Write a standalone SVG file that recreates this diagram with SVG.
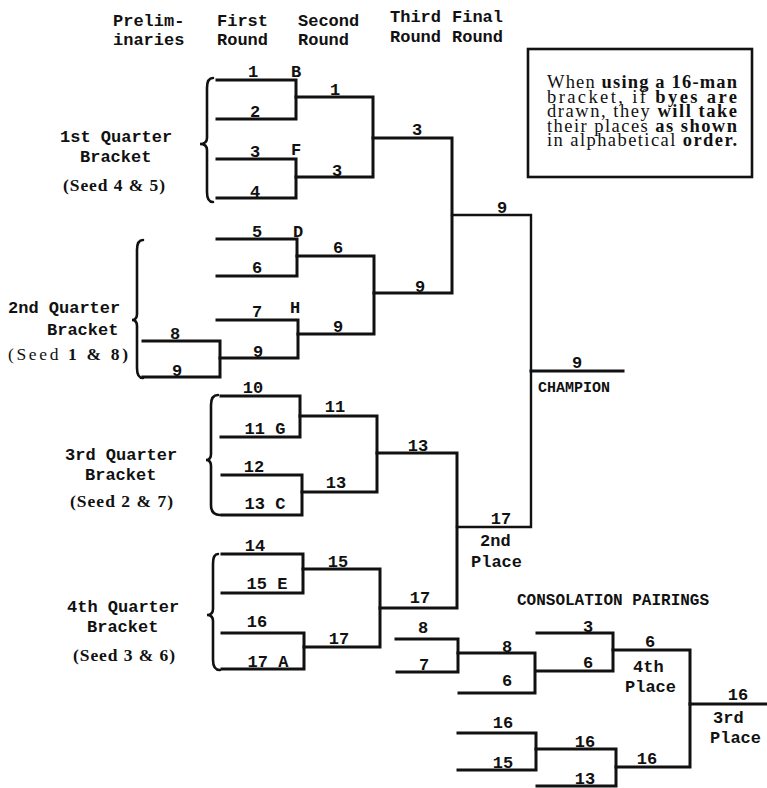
<svg xmlns="http://www.w3.org/2000/svg" width="767" height="788" viewBox="0 0 767 788">
<style>
.ln{fill:none;stroke:#111;stroke-width:3;stroke-linejoin:miter;stroke-linecap:square}
.th{stroke-width:2.4}
.br{fill:none;stroke:#111;stroke-width:2.6;stroke-linecap:round}
.t{font-family:"Liberation Mono","DejaVu Sans Mono",monospace;font-size:17px;font-weight:bold;fill:#111}
.n{font-family:"Liberation Mono","DejaVu Sans Mono",monospace;font-size:17px;font-weight:bold;fill:#111;text-anchor:middle}
.s{font-family:"Liberation Serif","DejaVu Serif",serif;font-size:17.5px;fill:#111}
.b{font-weight:bold}
.bx{font-family:"Liberation Serif","DejaVu Serif",serif;font-size:18.5px;fill:#111}
</style>
<rect width="767" height="788" fill="#fff"/>

<g id="headers">
<text class="t" x="113" y="26">Prelim-</text>
<text class="t" x="113" y="45">inaries</text>
<text class="t" x="217" y="26">First</text>
<text class="t" x="217" y="45">Round</text>
<text class="t" x="298" y="26">Second</text>
<text class="t" x="298" y="45">Round</text>
<text class="t" x="390" y="22">Third</text>
<text class="t" x="390" y="42">Round</text>
<text class="t" x="452" y="22">Final</text>
<text class="t" x="452" y="42">Round</text>
</g>

<g id="note">
<rect x="528" y="49" width="224" height="128" fill="none" stroke="#111" stroke-width="2.6"/>
<text class="bx" x="547" y="88" textLength="190" lengthAdjust="spacing">When <tspan class="b">using a 16-man</tspan></text>
<text class="bx" x="547" y="102.5" textLength="190" lengthAdjust="spacing">bracket, if <tspan class="b">byes are</tspan></text>
<text class="bx" x="547" y="117" textLength="190" lengthAdjust="spacing">drawn, they <tspan class="b">will take</tspan></text>
<text class="bx" x="547" y="131.5" textLength="190" lengthAdjust="spacing">their places <tspan class="b">as shown</tspan></text>
<text class="bx" x="547" y="146" textLength="190" lengthAdjust="spacing">in alphabetical <tspan class="b">order.</tspan></text>
</g>

<g id="connectors">
<!-- 1st quarter -->
<path class="ln" d="M217,80 H296 V119 H217"/>
<path class="ln" d="M217,159 H296 V198 H217"/>
<path class="ln" d="M296,97 H373 V177 H296"/>
<path class="ln" d="M373,138 H452 V293 H374"/>
<!-- 2nd quarter -->
<path class="ln" d="M217,239 H297 V276 H217"/>
<path class="ln" d="M217,320 H298 V358 H220"/>
<path class="ln" d="M143,341 H220 V377 H143"/>
<path class="ln" d="M297,256 H374 V334 H298"/>
<!-- final -->
<path class="ln th" d="M452,215 H531 V527 H457"/>
<path class="ln" d="M531,371 H623"/>
<!-- 3rd quarter -->
<path class="ln" d="M221,396 H300 V437 H221"/>
<path class="ln" d="M222,475 H302 V515 H222"/>
<path class="ln" d="M300,416 H377 V492 H302"/>
<path class="ln" d="M377,453 H457 V608 H380"/>
<!-- 4th quarter -->
<path class="ln" d="M222,554 H303 V593 H222"/>
<path class="ln" d="M222,633 H304 V669 H222"/>
<path class="ln" d="M303,569 H380 V647 H304"/>
<!-- consolation -->
<path class="ln" d="M396,639 H458 V672 H397"/>
<path class="ln" d="M458,653 H535 V693 H459"/>
<path class="ln" d="M537,633 H613 V671 H537"/>
<path class="ln" d="M613,650 H690 V767 H616"/>
<path class="ln" d="M458,733 H536 V770 H458"/>
<path class="ln" d="M536,749 H616 V786 H537"/>
<path class="ln" d="M690,704 H766"/>
</g>

<g id="braces">
<path class="br" d="M213,78 Q207,78 207,88 L207,138 Q207,144 200,144 Q207,144 207,150 L207,192 Q207,202 213,202"/>
<path class="br" d="M143,240 Q137,240 137,250 L137,314 Q137,320 132,320 Q137,320 137,326 L137,368 Q137,378 143,378"/>
<path class="br" d="M218,395 Q211,395 211,405 L211,454 Q211,460 206,460 Q211,460 211,466 L211,505 Q211,515 220,515"/>
<path class="br" d="M218,554 Q213,554 213,564 L213,609 Q213,615 207,615 Q213,615 213,621 L213,660 Q213,670 220,670"/>
</g>

<g id="q1">
<text class="t" x="60" y="142">1st Quarter</text>
<text class="t" x="80" y="162">Bracket</text>
<text class="s b" x="63" y="191" textLength="102" lengthAdjust="spacing">(Seed 4 &amp; 5)</text>
<text class="n" x="253" y="77">1</text><text class="n" x="296" y="77">B</text>
<text class="n" x="255" y="117">2</text>
<text class="n" x="255" y="157">3</text><text class="n" x="296" y="155">F</text>
<text class="n" x="255" y="197">4</text>
<text class="n" x="335" y="95">1</text>
<text class="n" x="337" y="176">3</text>
<text class="n" x="417" y="135">3</text>
</g>

<g id="q2">
<text class="t" x="8" y="313">2nd Quarter</text>
<text class="t" x="47" y="335">Bracket</text>
<text class="s" x="8" y="360" textLength="120" lengthAdjust="spacing">(Seed <tspan class="b">1 &amp; 8)</tspan></text>
<text class="n" x="257" y="237">5</text><text class="n" x="298" y="237">D</text>
<text class="n" x="257" y="273">6</text>
<text class="n" x="257" y="317">7</text><text class="n" x="295" y="313">H</text>
<text class="n" x="258" y="357">9</text>
<text class="n" x="175" y="339">8</text>
<text class="n" x="177" y="376">9</text>
<text class="n" x="338" y="253">6</text>
<text class="n" x="338" y="332">9</text>
<text class="n" x="420" y="292">9</text>
</g>

<g id="final">
<text class="n" x="502" y="213">9</text>
<text class="n" x="577" y="368">9</text>
<text class="t" x="538" y="392" style="font-size:15px">CHAMPION</text>
<text class="n" x="501" y="524">17</text>
<text class="t" x="480" y="546">2nd</text>
<text class="t" x="471" y="567">Place</text>
</g>

<g id="q3">
<text class="t" x="65" y="460">3rd Quarter</text>
<text class="t" x="85" y="480">Bracket</text>
<text class="s b" x="70" y="507" textLength="103" lengthAdjust="spacing">(Seed 2 &amp; 7)</text>
<text class="n" x="253" y="393">10</text>
<text class="n" x="265" y="434">11 G</text>
<text class="n" x="254" y="472">12</text>
<text class="n" x="265" y="509">13 C</text>
<text class="n" x="335" y="412">11</text>
<text class="n" x="336" y="488">13</text>
<text class="n" x="418" y="451">13</text>
</g>

<g id="q4">
<text class="t" x="67" y="612">4th Quarter</text>
<text class="t" x="87" y="632">Bracket</text>
<text class="s b" x="73" y="661" textLength="102" lengthAdjust="spacing">(Seed 3 &amp; 6)</text>
<text class="n" x="255" y="551">14</text>
<text class="n" x="267" y="589">15 E</text>
<text class="n" x="257" y="627">16</text>
<text class="n" x="268" y="667">17 A</text>
<text class="n" x="338" y="567">15</text>
<text class="n" x="339" y="644">17</text>
<text class="n" x="420" y="603">17</text>
</g>

<g id="consolation">
<text class="t" x="517" y="605" style="font-size:16px">CONSOLATION PAIRINGS</text>
<text class="n" x="423" y="633">8</text>
<text class="n" x="424" y="670">7</text>
<text class="n" x="507" y="652">8</text>
<text class="n" x="507" y="686">6</text>
<text class="n" x="588" y="632">3</text>
<text class="n" x="588" y="668">6</text>
<text class="n" x="650" y="647">6</text>
<text class="t" x="633" y="672">4th</text>
<text class="t" x="625" y="692">Place</text>
<text class="n" x="503" y="728">16</text>
<text class="n" x="503" y="768">15</text>
<text class="n" x="585" y="747">16</text>
<text class="n" x="585" y="784">13</text>
<text class="n" x="647" y="764">16</text>
<text class="n" x="738" y="700">16</text>
<text class="t" x="713" y="723">3rd</text>
<text class="t" x="710" y="743">Place</text>
</g>
</svg>
